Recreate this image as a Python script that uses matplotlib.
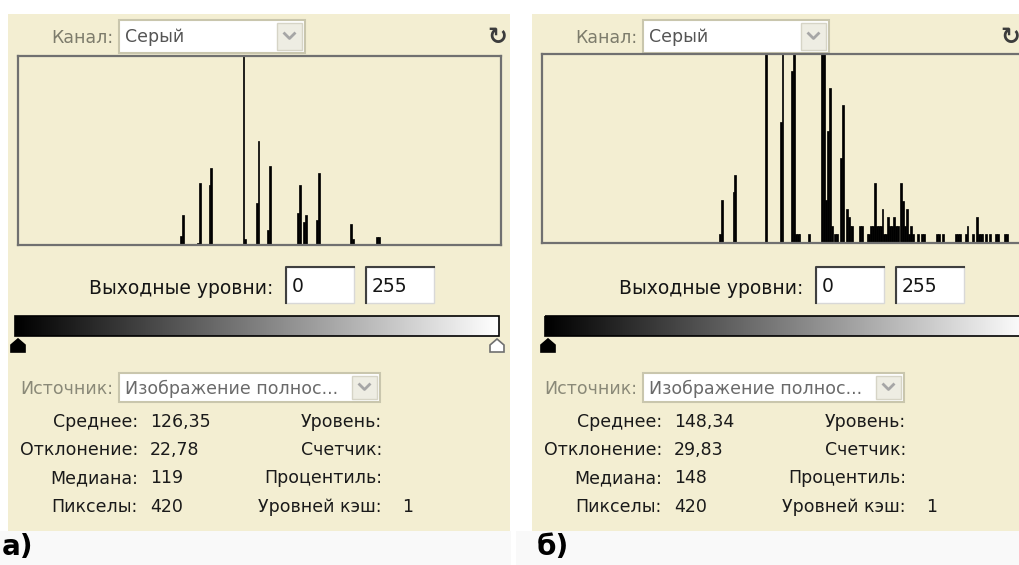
import numpy as np
import matplotlib.pyplot as plt
from matplotlib.patches import Rectangle, Polygon

plt.rcParams['font.family'] = ['DejaVu Sans']

W, H = 1020, 565

# histogram a): grey level -> bar height (% of the histogram window)
levels_a = [86, 87, 95, 96, 101, 102, 119, 120, 126, 127, 132, 133,
            148, 149, 151, 152, 158, 159, 176, 177, 190, 191]
heights_a = [5, 16, 1, 33, 32, 41, 100, 3, 22, 55, 8, 42,
             17, 32, 12, 16, 13, 38, 11, 3, 4, 4]

# histogram b)
levels_b = [94, 95, 101, 102, 118, 126, 127, 132, 133, 134, 135, 136, 141,
            148, 149, 150, 151, 152, 153, 155, 156, 158, 159,
            161, 162, 163, 164, 168, 169, 172, 173, 174, 175, 176, 177, 178, 179,
            180, 181, 182, 183, 184, 185, 186, 187, 188, 190, 191, 192, 193, 194,
            195, 196, 199, 201, 202, 209, 210, 212, 219, 220, 221, 224, 225, 228,
            230, 231, 232, 233, 235, 237, 240, 241, 245, 246]
heights_b = [5, 23, 27, 36, 100, 64, 100, 91, 100, 5, 5, 5, 5,
             100, 100, 23, 59, 82, 9, 5, 5, 45, 73,
             18, 14, 9, 9, 9, 9, 5, 5, 9, 9, 32, 9, 9, 9,
             18, 5, 5, 14, 9, 9, 14, 9, 9, 32, 22, 9, 18, 5,
             9, 5, 5, 5, 5, 5, 5, 5, 5, 5, 5, 5, 9, 5,
             14, 5, 5, 5, 5, 5, 5, 5, 5, 5]

stat_labels = ['Среднее:', 'Отклонение:', 'Медиана:', 'Пикселы:']
stats_a = ['126,35', '22,78', '119', '420']
stats_b = ['148,34', '29,83', '148', '420']
info_labels = ['Уровень:', 'Счетчик:', 'Процентиль:', 'Уровней кэш:']
cache_value = '1'
out_levels = ['0', '255']

BEIGE = '#f3eed2'

fig = plt.figure(figsize=(W / 100, H / 100), dpi=100)
fig.patch.set_facecolor('white')
bg = fig.add_axes([0, 0, 1, 1])
bg.set_axis_off()


def px_axes(x0, y0, x1, y1):
    return fig.add_axes([x0 / W, 1 - y1 / H, (x1 - x0) / W, (y1 - y0) / H])


def rect(x0, y0, x1, y1, **kw):
    bg.add_patch(Rectangle((x0, y0), x1 - x0, y1 - y0, **kw))


def dropdown(x0, y0, x1, y1, text, color):
    rect(x0, y0, x1, y1, facecolor='white', edgecolor='#c9c6ad', lw=1.5)
    bg.text(x0 + 6, (y0 + y1) / 2 + 1, text, fontsize=12.5, color=color,
            va='center', ha='left')
    bx0, bx1 = x1 - 28, x1 - 3
    rect(bx0, y0 + 3, bx1, y1 - 3, facecolor='#eeede3', edgecolor='#d6d4c6', lw=1)
    cx, cy = (bx0 + bx1) / 2, (y0 + y1) / 2
    bg.plot([cx - 5, cx, cx + 5], [cy - 3, cy + 2, cy - 3], color='#a6a6a6', lw=2)


def panel(dx, dxm, hy, levels, heights, stats, tag, tag_x, icon_x):
    rect(8 + dx, 14, 510 + dx, 531, facecolor=BEIGE, edgecolor='none')
    rect(dx - 8 if dx else 0, 531, 511 + dx, 565, facecolor='#f9f9f9', edgecolor='none')

    bg.text(113 + dx, 38, 'Канал:', fontsize=12.5, color='#7d7c6c',
            ha='right', va='center')
    dropdown(119 + dx, 20, 305 + dx, 53, 'Серый', '#555555')
    bg.text(icon_x, 37, '↻', fontsize=17, color='#3c3c3c', fontweight='bold',
            ha='center', va='center')

    # histogram window
    ax = px_axes(18 + dx, 56 + hy, 501 + dx, 245 + hy)
    ax.bar(levels, heights, width=1.0, color='black', edgecolor='black', linewidth=0.5)
    ax.set_xlim(-0.5, 255.5)
    ax.set_ylim(0, 100)
    ax.set_facecolor(BEIGE)
    ax.set_xticks([])
    ax.set_yticks([])
    for s in ax.spines.values():
        s.set_color('#707070')
        s.set_linewidth(1.6)

    # output levels
    bg.text(273 + dxm, 288, 'Выходные уровни:', fontsize=13.5, color='#151515',
            ha='right', va='center')
    for (x0, x1), val in zip([(286, 354), (366, 434)], out_levels):
        rect(x0 + dxm, 267, x1 + dxm, 303, facecolor='white', edgecolor='#d8d8d8', lw=1)
        bg.plot([x0 + dxm, x0 + dxm, x1 + dxm], [303, 267, 267], color='#404040', lw=1.5)
        bg.text(x0 + dxm + 6, 286, val, fontsize=13.5, color='#151515',
                ha='left', va='center')

    grad = np.linspace(0, 1, 256).reshape(1, -1)
    bg.imshow(grad, cmap='gray', aspect='auto',
              extent=(15 + dxm, 499 + dxm, 336, 316), zorder=2)
    rect(15 + dxm, 316, 499 + dxm, 336, facecolor='none', edgecolor='black', lw=1.2, zorder=3)
    for cx, fc, ec in [(18 + dxm, 'black', 'black'), (497 + dxm, 'white', '#707070')]:
        bg.add_patch(Polygon([(cx - 7, 352), (cx - 7, 345), (cx, 339), (cx + 7, 345),
                              (cx + 7, 352)], closed=True, facecolor=fc, edgecolor=ec,
                             lw=1.2, zorder=3))

    # source + statistics
    bg.text(113 + dx, 389, 'Источник:', fontsize=12.5, color='#8a8978',
            ha='right', va='center')
    dropdown(119 + dx, 373, 380 + dx, 402, 'Изображение полнос...', '#6a6a6a')
    rows = [422, 450, 478, 507]
    for y, lab, val, info in zip(rows, stat_labels, stats, info_labels):
        bg.text(138 + dx, y, lab, fontsize=12.5, color='#1a1a1a', ha='right', va='center')
        bg.text(150 + dx, y, val, fontsize=12.5, color='#1a1a1a', ha='left', va='center')
        bg.text(382 + dx, y, info, fontsize=12.5, color='#1a1a1a', ha='right', va='center')
    bg.text(402 + dx, rows[-1], cache_value, fontsize=12.5, color='#1a1a1a',
            ha='left', va='center')

    bg.text(tag_x, 547, tag, fontsize=20, fontweight='bold', color='black',
            ha='left', va='center')


panel(0, 0, 0, levels_a, heights_a, stats_a, 'а)', 2, 497)
panel(524, 530, -2, levels_b, heights_b, stats_b, 'б)', 537, 1010)

bg.set_xlim(0, W)
bg.set_ylim(H, 0)

fig.savefig('out.png', dpi=100, facecolor='white')
